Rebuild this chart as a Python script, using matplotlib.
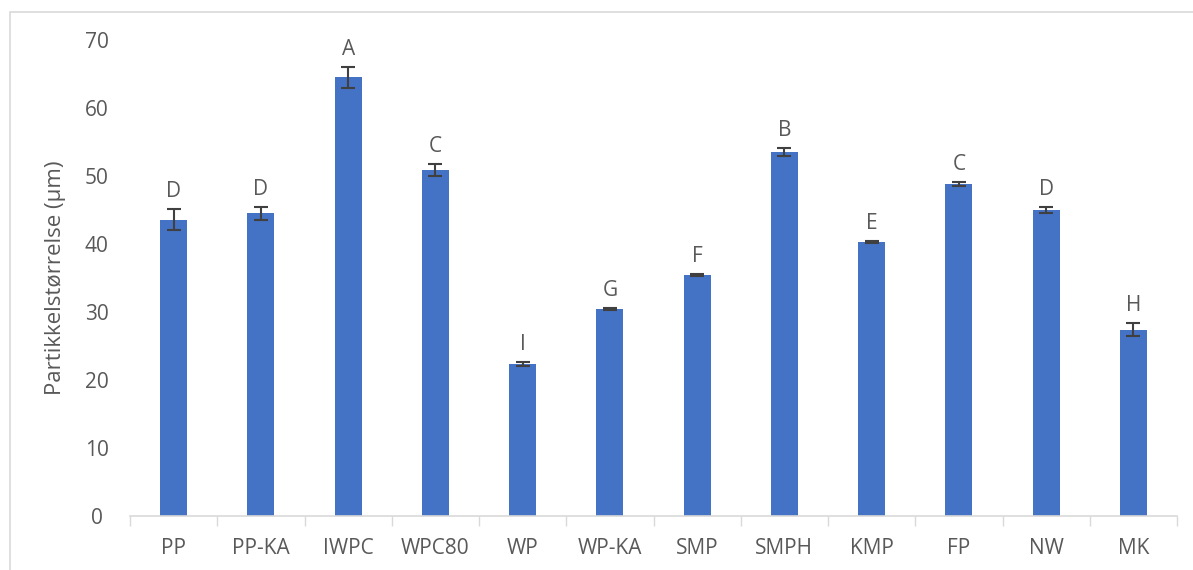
import matplotlib.pyplot as plt
import numpy as np
from matplotlib.patches import Rectangle

plt.rcParams['font.family'] = ['Open Sans', 'DejaVu Sans']

categories = ['PP', 'PP-KA', 'IWPC', 'WPC80', 'WP', 'WP-KA', 'SMP', 'SMPH', 'KMP', 'FP', 'NW', 'MK']
values = [43.6, 44.5, 64.5, 50.9, 22.3, 30.4, 35.4, 53.5, 40.3, 48.8, 45.0, 27.4]
errors = [1.5, 0.9, 1.6, 0.9, 0.3, 0.15, 0.15, 0.6, 0.15, 0.3, 0.5, 1.0]
letters = ['D', 'D', 'A', 'C', 'I', 'G', 'F', 'B', 'E', 'C', 'D', 'H']

text_col = '#595959'
grid_col = '#D9D9D9'

fig = plt.figure(figsize=(11.93, 5.70), dpi=100)
ax = fig.add_axes([130/1193, 1-516/570, 1047/1193, (516-40)/570])

x = np.arange(len(categories))
ax.bar(x, values, width=0.31, color='#4472C4', zorder=2)
ax.errorbar(x, values, yerr=errors, fmt='none', ecolor='#404040', elinewidth=1.5,
            capsize=5, capthick=1.5, zorder=3)

for xi, v, e, lab in zip(x, values, errors, letters):
    ax.annotate(lab, (xi, v + e), xytext=(0, 5), textcoords='offset points',
                ha='center', va='bottom', fontsize=15, color=text_col)

ax.set_xlim(-0.5, len(categories) - 0.5)
ax.set_ylim(0, 70)
ax.set_yticks(range(0, 71, 10))
ax.set_xticks(x)
ax.set_xticklabels(categories)
ax.set_xticks(np.arange(-0.5, len(categories), 1), minor=True)
ax.tick_params(axis='x', which='major', length=0, pad=16, labelsize=15, labelcolor=text_col)
ax.tick_params(axis='x', which='minor', length=7, width=1, color=grid_col)
ax.tick_params(axis='y', length=0, pad=24, labelsize=15, labelcolor=text_col)
for t in ax.get_yticklabels():
    t.set_horizontalalignment('center')

for s in ['top', 'right', 'left']:
    ax.spines[s].set_visible(False)
ax.spines['bottom'].set_color(grid_col)
ax.spines['bottom'].set_linewidth(1.2)

ax.set_ylabel('Partikkelstørrelse (µm)', fontsize=16, color=text_col)
ax.yaxis.set_label_coords(-0.061, 0.5)

fig.patches.append(Rectangle((10/1193, -0.1), 1.2, 1 - 12/570 + 0.1, transform=fig.transFigure,
                             fill=False, edgecolor=grid_col, linewidth=1.2))

fig.savefig('out.png', dpi=100)
